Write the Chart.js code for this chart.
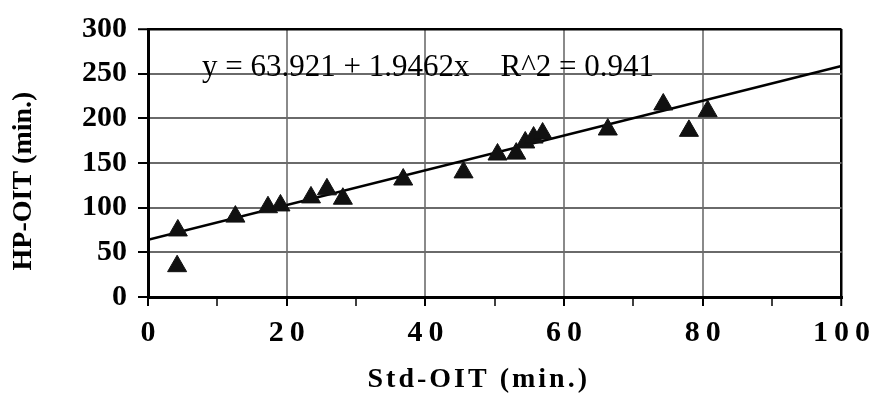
<!DOCTYPE html>
<html>
<head>
<meta charset="utf-8">
<script src="https://cdn.jsdelivr.net/npm/chart.js@4.4.1/dist/chart.umd.min.js"></script>
<style>
  html, body { margin: 0; padding: 0; background: #fff; }
  #wrap { width: 873px; height: 394px; }
</style>
</head>
<body>
<div id="wrap"><canvas id="c" width="873" height="394"></canvas></div>
<script>
// ---- data ----
const stdOIT = [4.2, 4.3, 12.6, 17.3, 19.1, 23.5, 25.8, 28.1, 36.8, 45.5, 50.4, 53.1, 54.4, 55.6, 56.9, 66.3, 74.3, 78.0, 80.7];
const hpOIT  = [34.5, 74.5, 90, 100.5, 102.5, 111.5, 120.5, 110, 131.5, 139.5, 159.5, 160.5, 173, 178.5, 183, 187.5, 215.5, 186, 208];
const fitIntercept = 63.921;
const fitSlope = 1.9462;
const fitRange = [0, 100];
const xTicks = [0, 20, 40, 60, 80, 100];
const yTicks = [0, 50, 100, 150, 200, 250, 300];
const equationText = 'y = 63.921 + 1.9462x    R^2 = 0.941';
const xTitle = 'Std-OIT (min.)';
const yTitle = 'HP-OIT (min.)';

const points = stdOIT.map((v, i) => ({ x: v, y: hpOIT[i] }));
const fitLine = fitRange.map(v => ({ x: v, y: fitIntercept + fitSlope * v }));

const SERIF = '"Liberation Serif", "Times New Roman", serif';

const textPlugin = {
  id: 'texts',
  beforeDraw(chart) {
    const s = chart.scales.x;
    if (!s._spaced) {
      const orig = s.drawLabels;
      s.drawLabels = function (area) {
        const ctx = this.ctx;
        ctx.save();
        ctx.letterSpacing = '6px';
        ctx.translate(3, 0);
        orig.call(this, area);
        ctx.restore();
      };
      s._spaced = true;
    }
  },
  afterDraw(chart) {
    const { ctx, chartArea: a, scales: { x, y } } = chart;
    ctx.save();
    ctx.fillStyle = '#000';
    // regression equation
    ctx.font = '31px ' + SERIF;
    ctx.textAlign = 'left';
    ctx.textBaseline = 'alphabetic';
    ctx.fillText(equationText, x.getPixelForValue(7.8), y.getPixelForValue(247));
    // x title
    ctx.font = 'bold 28px ' + SERIF;
    ctx.letterSpacing = '3px';
    ctx.textAlign = 'center';
    ctx.textBaseline = 'middle';
    ctx.fillText(xTitle, (a.left + a.right) / 2 - 16, a.bottom + 83);
    ctx.letterSpacing = '0px';
    // y title
    ctx.font = 'bold 28px ' + SERIF;
    ctx.translate(24, (a.top + a.bottom) / 2 + 18);
    ctx.rotate(-Math.PI / 2);
    ctx.fillText(yTitle, 0, 0);
    ctx.restore();
  }
};

new Chart(document.getElementById('c'), {
  type: 'scatter',
  data: {
    datasets: [
      {
        label: 'fit',
        type: 'line',
        data: fitLine,
        borderColor: '#000',
        borderWidth: 2.5,
        pointRadius: 0,
        fill: false,
        order: 2
      },
      {
        label: 'HP-OIT',
        data: points,
        pointStyle: 'triangle',
        pointRadius: 11,
        backgroundColor: '#111',
        borderColor: '#111',
        borderWidth: 1,
        order: 1
      }
    ]
  },
  plugins: [textPlugin],
  options: {
    responsive: false,
    animation: false,
    devicePixelRatio: 1,
    layout: { padding: { left: 0, top: 21, right: 29, bottom: 0 } },
    plugins: { legend: { display: false }, tooltip: { enabled: false } },
    scales: {
      x: {
        type: 'linear',
        min: 0, max: 100,
        afterFit(scale) { scale.height = 97; },
        ticks: {
          stepSize: 10,
          padding: 9,
          color: '#000',
          font: { family: SERIF, size: 30, weight: 'bold' },
          callback: v => (xTicks.includes(v) ? String(v) : '')
        },
        grid: {
          tickLength: 9,
          color: c => {
            const v = c.tick && c.tick.value;
            if (v === 100) return '#000';
            if (v > 0 && v % 20 === 0) return '#8a8a8a';
            return 'rgba(0,0,0,0)';
          },
          lineWidth: c => (c.tick && c.tick.value === 100 ? 2.5 : 2),
          tickColor: '#000',
          tickWidth: c => (c.tick && c.tick.value % 20 === 0 ? 2 : 1.5)
        },
        border: { color: '#000', width: 3 }
      },
      y: {
        type: 'linear',
        min: 0, max: 300,
        afterFit(scale) { scale.width = 148; },
        ticks: {
          stepSize: 25,
          padding: 11,
          color: '#000',
          font: { family: SERIF, size: 30, weight: 'bold' },
          callback: v => (yTicks.includes(v) ? String(v) : '')
        },
        grid: {
          tickLength: 10,
          color: c => {
            const v = c.tick && c.tick.value;
            if (v === 300) return '#000';
            if (v > 0 && v % 50 === 0) return '#6a6a6a';
            return 'rgba(0,0,0,0)';
          },
          lineWidth: c => (c.tick && c.tick.value === 300 ? 2.5 : 2),
          tickColor: '#000',
          tickWidth: c => (c.tick && c.tick.value % 50 === 0 ? 2 : 1.5)
        },
        border: { color: '#000', width: 3 }
      }
    }
  }
});
</script>
</body>
</html>
